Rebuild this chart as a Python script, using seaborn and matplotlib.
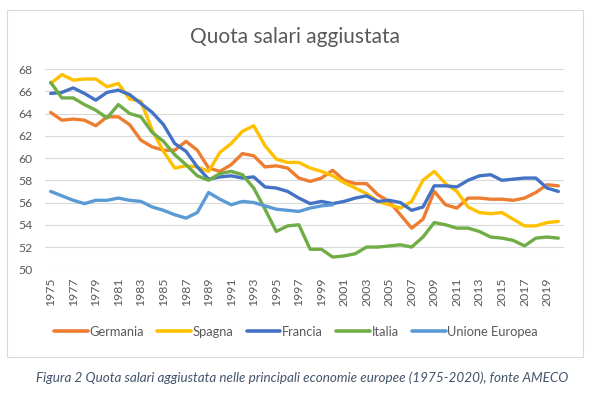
import numpy as np
import pandas as pd
import matplotlib
matplotlib.use("Agg")
import matplotlib.pyplot as plt
import seaborn as sns
from matplotlib.patches import Rectangle

years = list(range(1975, 2021))

germania = [64.1, 63.4, 63.5, 63.4, 62.9, 63.7, 63.7, 63.0, 61.6, 61.0, 60.7, 60.7, 61.5, 60.7, 59.1,
            58.8, 59.4, 60.4, 60.2, 59.2, 59.3, 59.1, 58.2, 57.9, 58.2, 58.9, 58.0, 57.7, 57.7, 56.7,
            56.1, 54.9, 53.7, 54.5, 57.0, 55.8, 55.5, 56.4, 56.4, 56.3, 56.3, 56.2, 56.4, 56.9, 57.6, 57.5]
spagna = [66.7, 67.5, 67.0, 67.1, 67.1, 66.4, 66.7, 65.3, 65.1, 62.5, 60.6, 59.1, 59.3, 59.2, 58.8,
          60.5, 61.3, 62.4, 62.9, 61.1, 59.9, 59.6, 59.6, 59.1, 58.8, 58.4, 57.8, 57.3, 56.8, 56.1,
          55.8, 55.5, 56.1, 58.0, 58.8, 57.7, 57.0, 55.6, 55.1, 55.0, 55.1, 54.5, 53.9, 53.9, 54.2, 54.3]
francia = [65.8, 65.9, 66.3, 65.8, 65.2, 65.9, 66.1, 65.7, 64.9, 64.1, 63.0, 61.3, 60.6, 59.2, 58.1,
           58.3, 58.4, 58.2, 58.3, 57.4, 57.3, 57.0, 56.4, 55.9, 56.1, 55.9, 56.1, 56.4, 56.6, 56.1,
           56.2, 56.0, 55.3, 55.6, 57.5, 57.5, 57.4, 58.0, 58.4, 58.5, 58.0, 58.1, 58.2, 58.2, 57.3, 57.0]
italia = [66.8, 65.4, 65.4, 64.8, 64.3, 63.6, 64.8, 64.0, 63.7, 62.3, 61.5, 60.3, 59.4, 58.4, 58.0,
          58.6, 58.8, 58.5, 57.3, 55.4, 53.4, 53.9, 54.0, 51.8, 51.8, 51.1, 51.2, 51.4, 52.0, 52.0,
          52.1, 52.2, 52.0, 52.9, 54.2, 54.0, 53.7, 53.7, 53.4, 52.9, 52.8, 52.6, 52.1, 52.8, 52.9, 52.8]
unione_europea = [57.0, 56.6, 56.2, 55.9, 56.2, 56.2, 56.4, 56.2, 56.1, 55.6, 55.3, 54.9, 54.6, 55.1, 56.9,
                  56.3, 55.8, 56.1, 56.0, 55.7, 55.4, 55.3, 55.2, 55.5, 55.7, 55.8] + [np.nan] * 20

series_names = ["Germania", "Spagna", "Francia", "Italia", "Unione Europea"]
colors = ["#ED7D31", "#FFC000", "#4472C4", "#70AD47", "#5B9BD5"]
y_ticks = list(range(50, 70, 2))
x_tick_years = list(range(1975, 2021, 2))
title = "Quota salari aggiustata"
caption = "Figura 2 Quota salari aggiustata nelle principali economie europee (1975-2020), fonte AMECO"

df = pd.DataFrame({"Anno": years, "Germania": germania, "Spagna": spagna, "Francia": francia,
                   "Italia": italia, "Unione Europea": unione_europea})
long = df.melt(id_vars="Anno", var_name="Paese", value_name="Quota")

sns.set_theme(style="white")
plt.rcParams["font.family"] = ["Lato", "DejaVu Sans"]

fig = plt.figure(figsize=(5.95, 3.96), dpi=100)
ax = fig.add_axes([45 / 595, 1 - 269.3 / 396, (564 - 45) / 595, (269.3 - 69) / 396])

sns.lineplot(data=long, x="Anno", y="Quota", hue="Paese", hue_order=series_names,
             palette=colors, linewidth=2.4, ax=ax, legend=True)

ax.set_xlim(1974.5, 2020.5)
ax.set_ylim(50, 68)
ax.set_yticks(y_ticks)
ax.set_xticks(x_tick_years)
ax.set_xticklabels([str(y) for y in x_tick_years], rotation=90)
ax.grid(axis="y", color="#D9D9D9", linewidth=0.8)
ax.grid(axis="x", visible=False)
for s in ax.spines.values():
    s.set_visible(False)
ax.tick_params(axis="both", length=0, labelsize=8.8, colors="#595959")
ax.tick_params(axis="y", pad=9)
ax.tick_params(axis="x", pad=6)
ax.set_xlabel("")
ax.set_ylabel("")
ax.set_axisbelow(True)

handles, labels = ax.get_legend_handles_labels()
ax.legend_.remove()
leg = fig.legend(handles, labels, loc="center", bbox_to_anchor=(296 / 595, 1 - 332 / 396),
                 ncol=5, frameon=False, fontsize=9.3, handlelength=2.6, handletextpad=0.12,
                 columnspacing=1.05)
for t in leg.get_texts():
    t.set_color("#595959")
for h in leg.get_lines():
    h.set_linewidth(2.6)

fig.text(295 / 595, 1 - 37 / 396, title, ha="center", va="center", fontsize=15, color="#595959")
fig.text(302 / 595, 1 - 378 / 396, caption, ha="center", va="center", fontsize=9.7,
         style="italic", color="#44546A")

fig.patches.append(Rectangle((7 / 595, 1 - 357 / 396), (583 - 7) / 595, (357 - 10) / 396,
                             transform=fig.transFigure, fill=False, edgecolor="#D9D9D9",
                             linewidth=0.8))

fig.savefig("out.png", dpi=100, facecolor="white")
